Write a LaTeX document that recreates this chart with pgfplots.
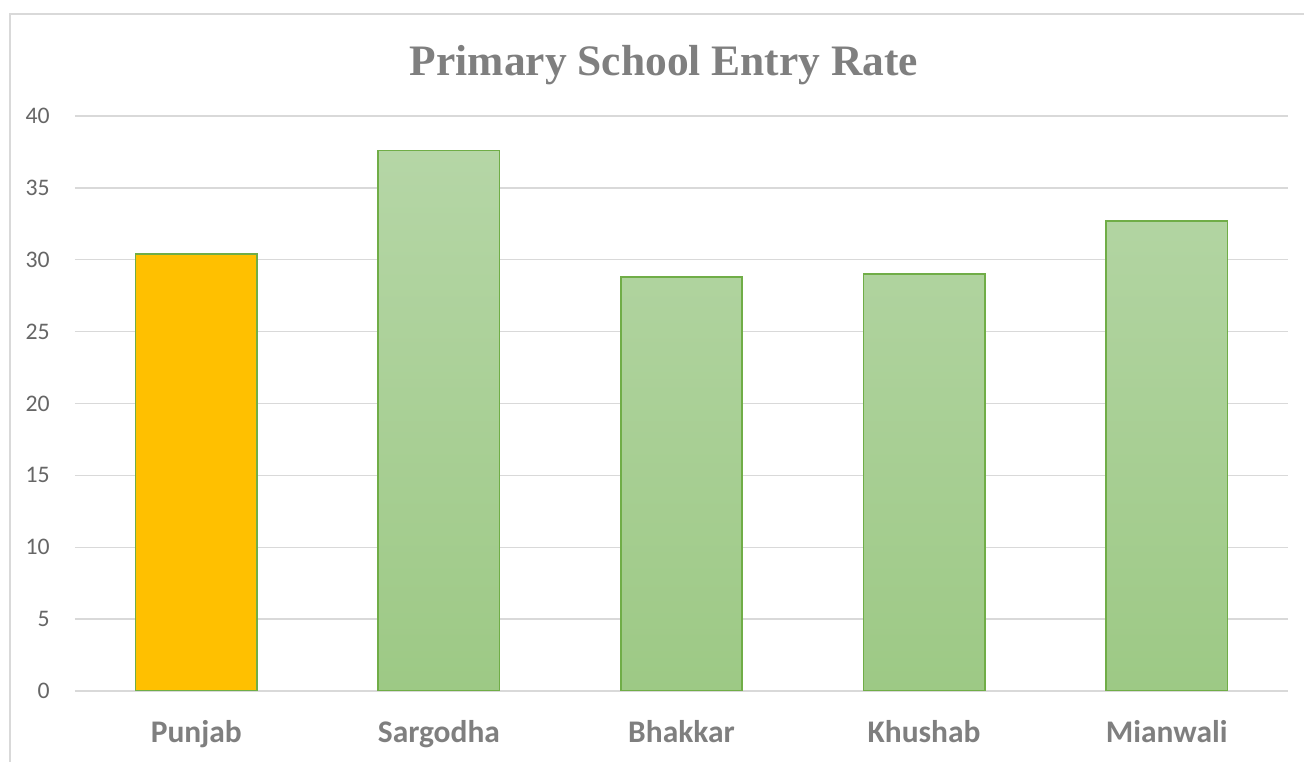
\documentclass[border=0pt]{standalone}
\usepackage{pgfplots}
\pgfplotsset{compat=1.18}
\usepackage{fontspec}
\setmainfont{Carlito}
\newfontfamily\titlefont{Liberation Serif}
\definecolor{gridc}{HTML}{D9D9D9}
\definecolor{gold}{HTML}{FFC000}
\definecolor{edgeg}{HTML}{70AD47}
\definecolor{gtop}{HTML}{B5D6A6}
\definecolor{gbot}{HTML}{9DC985}
\definecolor{tickc}{HTML}{666666}
\definecolor{catc}{HTML}{7F7F7F}
\definecolor{titlec}{HTML}{7F7F7F}
\begin{document}
\begin{tikzpicture}[x=0.75pt,y=0.75pt]
\draw[gridc, line width=1.2pt] (10,-20) -- (10,748) -- (1330,748);
\begin{axis}[
  at={(56.25pt,53.25pt)}, anchor=south west,
  width=909.75pt, height=431.25pt, scale only axis,
  xmin=-0.5, xmax=4.5, ymin=0, ymax=40,
  ytick={0,5,...,40},
  xtick={0,1,2,3,4},
  xticklabels={Punjab,Sargodha,Bhakkar,Khushab,Mianwali},
  axis line style={draw=none},
  tick style={draw=none},
  ymajorgrids,
  grid style={color=gridc, line width=1.1pt},
  bar width=0.5,
  /pgf/number format/assume math mode=true,
  yticklabel style={font=\fontsize{17.8}{20}\selectfont, text=tickc, inner sep=0pt, anchor=east, xshift=-18.75pt},
  xticklabel style={font=\bfseries\fontsize{23.6}{26}\selectfont, text=catc, inner sep=0pt, anchor=base, yshift=-39pt},
]
\addplot[ybar, bar shift=0pt, fill=gold, draw=edgeg, line width=1.2pt] coordinates {(0,30.4)};
\addplot[ybar, bar shift=0pt, top color=gtop, bottom color=gbot, draw=edgeg, line width=1.2pt] coordinates {(1,37.6) (2,28.8) (3,29.0) (4,32.7)};
\end{axis}
\node[font=\titlefont\bfseries\fontsize{32.6}{36}\selectfont, text=titlec] at (664,697) {Primary School Entry Rate};
\pgfresetboundingbox
\useasboundingbox (0,0) rectangle (1304,762);
\end{tikzpicture}
\end{document}
